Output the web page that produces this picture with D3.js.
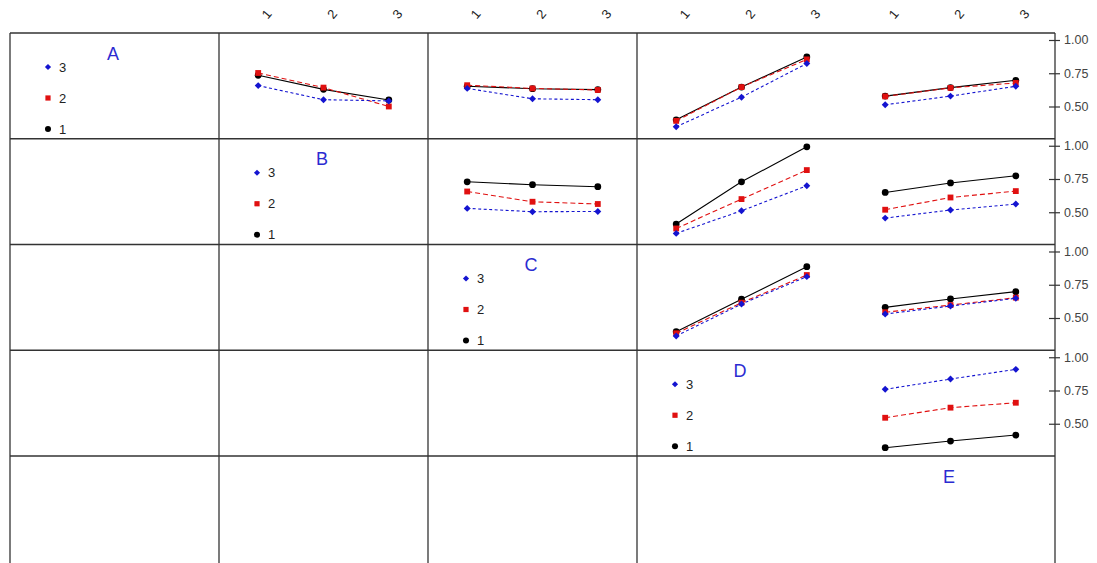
<!DOCTYPE html>
<html>
<head>
<meta charset="utf-8">
<script src="https://cdn.jsdelivr.net/npm/d3@7"></script>
<style>
  body { margin: 0; background: #fff; }
  svg { display: block; font-family: "Liberation Sans", Arial, sans-serif; }
</style>
</head>
<body>
<script>
var factors = ["A", "B", "C", "D", "E"];
var levels = [1, 2, 3];
var legendLevels = ["3", "2", "1"];
var rightTicks = [0.5, 0.75, 1.0];

// mean response: one row per trace level (1, 2, 3), one column per x level (1, 2, 3)
var meanAB = [[0.735, 0.629, 0.549], [0.752, 0.642, 0.500], [0.657, 0.551, 0.542]];
var meanAC = [[0.652, 0.634, 0.627], [0.660, 0.636, 0.624], [0.636, 0.558, 0.551]];
var meanAD = [[0.400, 0.646, 0.873], [0.392, 0.646, 0.854], [0.348, 0.570, 0.823]];
var meanAE = [[0.578, 0.642, 0.697], [0.576, 0.640, 0.677], [0.513, 0.578, 0.652]];
var meanBC = [[0.729, 0.707, 0.692], [0.656, 0.579, 0.562], [0.529, 0.504, 0.506]];
var meanBD = [[0.411, 0.729, 0.992], [0.378, 0.599, 0.817], [0.341, 0.511, 0.699]];
var meanBE = [[0.649, 0.720, 0.774], [0.519, 0.611, 0.659], [0.456, 0.517, 0.562]];
var meanCD = [[0.397, 0.641, 0.886], [0.385, 0.615, 0.823], [0.365, 0.605, 0.811]];
var meanCE = [[0.580, 0.643, 0.698], [0.543, 0.597, 0.653], [0.530, 0.590, 0.648]];
var meanDE = [[0.320, 0.370, 0.415], [0.545, 0.621, 0.658], [0.759, 0.836, 0.909]];

function drawMatrix() {
  var width = 1097;
  var height = 563;

  var svg = d3.select("body")
    .append("svg")
    .attr("width", width)
    .attr("height", height);

  var colEdge = d3.scaleLinear().domain([0, 5]).range([10, 1055]);
  var rowEdge = d3.scaleLinear().domain([0, 5]).range([33, 561.75]);
  var cellW = colEdge(1) - colEdge(0);
  var cellH = rowEdge(1) - rowEdge(0);

  var x = d3.scaleLinear().domain([0.4, 3.6]).range([0, cellW]);
  var y = d3.scaleLinear().domain([0.2575, 1.0526]).range([cellH, 0]);

  var colors = ["#000000", "#e01010", "#1414d0"];
  var dashes = [null, "5,3", "3,2.5"];
  // level 3 uses a square turned 45 degrees (a wide diamond)
  var symbols = [d3.symbolCircle, d3.symbolSquare, d3.symbolSquare];
  var turns = [0, 0, 45];
  var sizes = [36, 34, 24];

  var panels = [
    { row: 0, col: 1, values: meanAB },
    { row: 0, col: 2, values: meanAC },
    { row: 0, col: 3, values: meanAD },
    { row: 0, col: 4, values: meanAE },
    { row: 1, col: 2, values: meanBC },
    { row: 1, col: 3, values: meanBD },
    { row: 1, col: 4, values: meanBE },
    { row: 2, col: 3, values: meanCD },
    { row: 2, col: 4, values: meanCE },
    { row: 3, col: 4, values: meanDE }
  ];

  // grid (no line between the last two columns, none at the bottom)
  var grid = svg.append("g").attr("stroke", "#333").attr("stroke-width", 1.3);
  [0, 1, 2, 3, 5].forEach(function (c) {
    grid.append("line")
      .attr("x1", colEdge(c)).attr("x2", colEdge(c))
      .attr("y1", rowEdge(0)).attr("y2", height);
  });
  [0, 1, 2, 3, 4].forEach(function (r) {
    grid.append("line")
      .attr("x1", colEdge(0)).attr("x2", colEdge(5))
      .attr("y1", rowEdge(r)).attr("y2", rowEdge(r));
  });

  var line = d3.line()
    .x(function (d, i) { return x(levels[i]); })
    .y(function (d) { return y(d); });

  panels.forEach(function (p) {
    var g = svg.append("g")
      .attr("transform", "translate(" + colEdge(p.col) + "," + rowEdge(p.row) + ")");

    p.values.forEach(function (vals, k) {
      g.append("path")
        .attr("d", line(vals))
        .attr("fill", "none")
        .attr("stroke", colors[k])
        .attr("stroke-width", 1.1)
        .attr("stroke-dasharray", dashes[k]);

      g.selectAll(".pt" + k)
        .data(vals)
        .enter()
        .append("path")
          .attr("d", d3.symbol().type(symbols[k]).size(sizes[k]))
          .attr("transform", function (d, i) {
            return "translate(" + x(levels[i]) + "," + y(d) + ") rotate(" + turns[k] + ")";
          })
          .attr("fill", colors[k]);
    });
  });

  // diagonal: factor names and trace legends
  factors.forEach(function (f, i) {
    var cx = colEdge(i);
    var cy = rowEdge(i);
    svg.append("text")
      .attr("x", cx + cellW / 2 - 1.5)
      .attr("y", cy + 26.5)
      .attr("text-anchor", "middle")
      .attr("font-size", 18)
      .attr("fill", "#2b2bd1")
      .text(f);

    if (i === factors.length - 1) return; // E is never a trace factor

    legendLevels.forEach(function (lv, j) {
      var k = +lv - 1;
      var ly = cy + 34 + j * 31;
      svg.append("path")
        .attr("d", d3.symbol().type(symbols[k]).size(sizes[k] * 0.8))
        .attr("transform", "translate(" + (cx + 38) + "," + ly + ") rotate(" + turns[k] + ")")
        .attr("fill", colors[k]);
      svg.append("text")
        .attr("x", cx + 49)
        .attr("y", ly)
        .attr("dy", "0.35em")
        .attr("font-size", 13)
        .attr("fill", "#222")
        .text(lv);
    });
  });

  // right axes, one per row that holds panels
  [0, 1, 2, 3].forEach(function (r) {
    var ax = svg.append("g")
      .attr("transform", "translate(" + (colEdge(5) - 6) + "," + rowEdge(r) + ")")
      .call(d3.axisRight(y).tickValues(rightTicks).tickFormat(d3.format(".2f"))
        .tickSizeInner(11).tickSizeOuter(0).tickPadding(4));
    ax.select(".domain").remove();
    ax.selectAll("line").attr("stroke", "#333").attr("stroke-width", 1.2);
    ax.selectAll("text").attr("font-size", 12.5).attr("fill", "#444")
      .style("font-family", "'Liberation Sans', Arial, sans-serif");
  });

  // top axes with rotated level labels
  [1, 2, 3, 4].forEach(function (c) {
    var ax = svg.append("g")
      .attr("transform", "translate(" + colEdge(c) + ",14)")
      .call(d3.axisTop(x).tickValues(levels).tickFormat(d3.format("d")).tickSize(0));
    ax.select(".domain").remove();
    ax.selectAll("text")
      .attr("y", 0)
      .attr("dy", "0.35em")
      .attr("text-anchor", "middle")
      .attr("transform", "translate(8,0) rotate(-50)")
      .attr("font-size", 13)
      .attr("fill", "#222")
      .style("font-family", "'Liberation Sans', Arial, sans-serif");
  });
}

drawMatrix();
</script>
</body>
</html>
